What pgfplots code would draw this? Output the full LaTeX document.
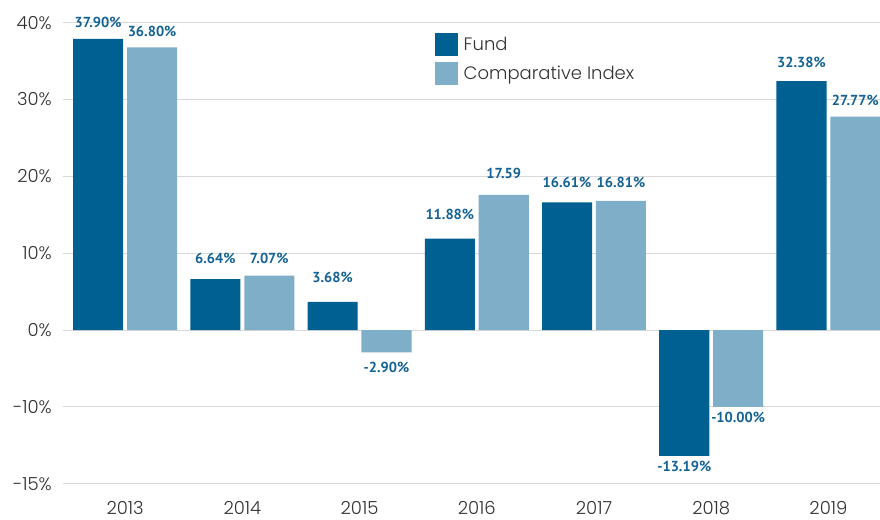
\documentclass[border=0pt]{standalone}
\usepackage{fontspec}
\setmainfont{Poppins Light}
\newfontfamily\labfont{PT Sans}
\usepackage{pgfplots}
\pgfplotsset{compat=1.18}
\definecolor{fundc}{RGB}{0,96,145}
\definecolor{indexc}{RGB}{127,174,201}
\definecolor{labc}{RGB}{20,98,148}
\definecolor{gridc}{RGB}{217,217,217}
\begin{document}
\begin{tikzpicture}
\begin{axis}[
  name=ax,
  scale only axis,
  width=817pt, height=461pt,
  xmin=-0.53, xmax=6.44,
  ymin=-15, ymax=40,
  y coord trafo/.code={\pgfmathparse{(#1)<-10 ? 2*(#1)+10 : (#1)}},
  y coord inv trafo/.code={\pgfmathparse{(#1)<-10 ? ((#1)-10)/2 : (#1)}},
  xtick={0,1,2,3,4,5,6},
  xticklabels={2013,2014,2015,2016,2017,2018,2019},
  ytick={-15,-10,0,10,20,30,40},
  yticklabels={-15\%,-10\%,0\%,10\%,20\%,30\%,40\%},
  ymajorgrids=true,
  major grid style={draw=gridc, line width=1pt},
  axis line style={draw=none},
  major tick length=0pt,
  tick label style={font=\fontsize{18}{20}\selectfont, text=black!80, inner sep=0pt},
  xticklabel style={anchor=base, yshift=-31pt},
  yticklabel style={anchor=east, xshift=-11pt},
  clip=false,
  legend style={at={(0.455,0.978)}, anchor=north west, draw=none, fill=none,
    inner sep=0pt, outer sep=0pt, row sep=6pt,
    font=\fontsize{18}{20}\selectfont, text=black!80,
    nodes={inner sep=0pt}},
  legend cell align=left,
  legend image code/.code={\fill[#1] (0pt,-11.5pt) rectangle (23pt,11.5pt);},
  /tikz/every odd column/.append style={column sep=6pt},
]
\addplot[ybar, bar width=0.427, bar shift=-0.23, fill=fundc, draw=none]
  coordinates {(0,37.90) (1,6.64) (2,3.68) (3,11.88) (4,16.61) (5,-13.19) (6,32.38)};
\addlegendentry{Fund}
\addplot[ybar, bar width=0.427, bar shift=0.23, fill=indexc, draw=none]
  coordinates {(0,36.80) (1,7.07) (2,-2.90) (3,17.59) (4,16.81) (5,-10.00) (6,27.77)};
\addlegendentry{Comparative Index}
% value labels
\addplot[forget plot, draw=none, mark=none, nodes near coords, point meta=explicit symbolic,
  nodes near coords style={anchor=center, font=\labfont\bfseries\fontsize{14.5}{16}\selectfont, text=labc, inner sep=0pt}]
  coordinates {(-0.23,40.0)[37.90\%] (0.77,9.3)[6.64\%] (1.77,6.85)[3.68\%] (2.77,15.1)[11.88\%]
               (3.77,19.25)[16.61\%] (4.77,-13.89)[-13.19\%] (5.77,34.8)[32.38\%]};
\addplot[forget plot, draw=none, mark=none, nodes near coords, point meta=explicit symbolic,
  nodes near coords style={anchor=center, font=\labfont\bfseries\fontsize{14.5}{16}\selectfont, text=labc, inner sep=0pt}]
  coordinates {(0.23,38.9)[36.80\%] (1.23,9.3)[7.07\%] (2.23,-4.9)[-2.90\%] (3.23,20.4)[17.59]
               (4.23,19.25)[16.81\%] (5.23,-10.69)[-10.00\%] (6.23,29.9)[27.77\%]};
\end{axis}
\pgfresetboundingbox
\path[use as bounding box] ([shift={(-63pt,-36pt)}]ax.south west) rectangle ([shift={(0pt,22.7pt)}]ax.north east);
\end{tikzpicture}
\end{document}
